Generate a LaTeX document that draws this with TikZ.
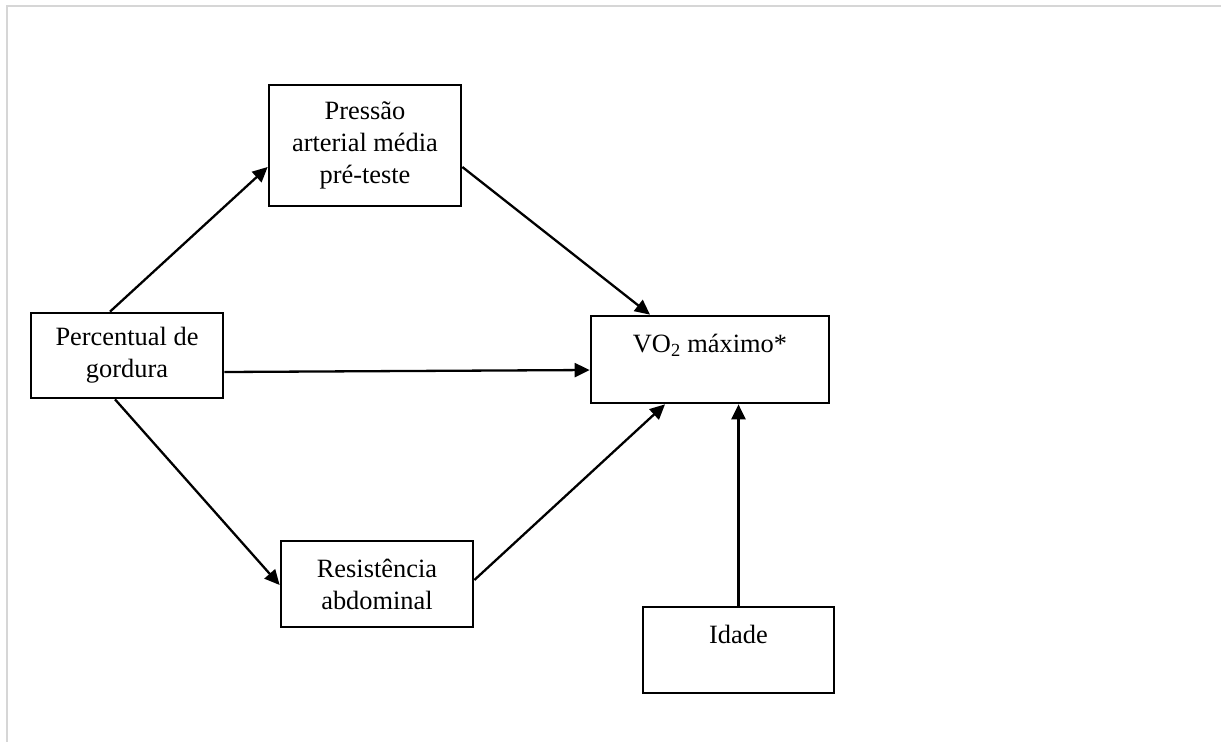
\documentclass[tikz,border=0pt]{standalone}
\usepackage{fontspec}
\setmainfont{Liberation Serif}
\usetikzlibrary{arrows.meta,calc}
\definecolor{framegray}{RGB}{214,214,214}
\begin{document}
\begin{tikzpicture}[x=1pt,y=-1pt,
  box/.style={draw=black, line width=2.7pt, rectangle, align=center, inner sep=0pt,
    font=\fontsize{26.4}{32}\selectfont},
  arr/.style={line width=2.3pt, -{Triangle[length=15pt,width=14pt]}}]
\useasboundingbox (0,0) rectangle (1221,742);
\draw[framegray, line width=2.5pt] (1221,6) -- (7,6) -- (7,742);
\node[box, minimum width=192pt, minimum height=121pt] (pres) at (365,145.5) {Pressão\\arterial média\\pré-teste};
\node[box, minimum width=192pt, minimum height=85pt] (perc) at (127,355.5) {Percentual de\\gordura};
\node[box, minimum width=192pt, minimum height=86pt] (res) at (377,584) {Resistência\\abdominal};
\node[box, minimum width=238pt, minimum height=87pt] (vo2) at (710,359.5) {VO\textsubscript{2} máximo*\\\mbox{}};
\node[box, minimum width=191pt, minimum height=86pt] (idade) at (738.5,650) {Idade\\\mbox{}};
\draw[arr] ($(perc.north)+(-17,0)$) -- ($(pres.west)+(0,21.5)$);
\draw[arr] ($(pres.east)+(0,21.5)$) -- ($(vo2.north)+(-60,0)$);
\draw[arr] ($(perc.east)+(0,16.5)$) -- ($(vo2.west)+(0,10.5)$);
\draw[arr] ($(perc.south)+(-12,0)$) -- ($(res.west)+(0,1)$);
\draw[arr] ($(res.east)+(0,-4)$) -- ($(vo2.south)+(-45,0)$);
\draw[arr] (idade.north) -- (idade.north |- vo2.south);
\end{tikzpicture}
\end{document}
